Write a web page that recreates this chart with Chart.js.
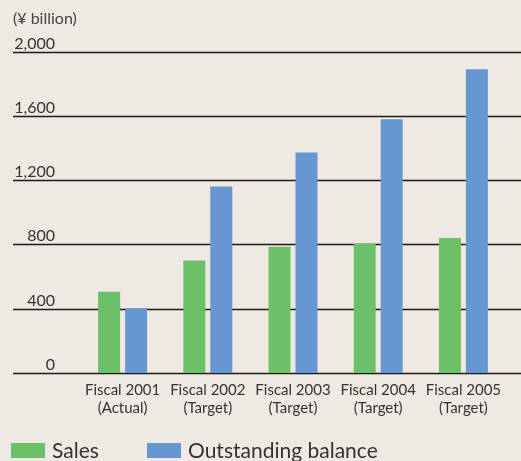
<!DOCTYPE html>
<html>
<head>
<meta charset="utf-8">
<script src="https://cdn.jsdelivr.net/npm/chart.js@4.4.0/dist/chart.umd.min.js"></script>
<style>
    html, body { margin: 0; padding: 0; background: #eeeae3; }
    #wrap { position: relative; width: 521px; height: 461px; overflow: hidden; }
    #unit { position: absolute; left: 13px; top: 8px; font: 16px Lato, sans-serif; color: #444; }
</style>
</head>
<body>
<div id="wrap">
    <canvas id="chart" width="521" height="461"></canvas>
    <div id="unit">(¥ billion)</div>
</div>
<script>
// Data
const categories = [
    ['Fiscal 2001', '(Actual)'],
    ['Fiscal 2002', '(Target)'],
    ['Fiscal 2003', '(Target)'],
    ['Fiscal 2004', '(Target)'],
    ['Fiscal 2005', '(Target)']
];
const salesValues = [505, 700, 785, 805, 840];
const balanceValues = [403, 1160, 1372, 1578, 1890];
const yTickValues = [0, 400, 800, 1200, 1600, 2000];
const seriesNames = ['Sales', 'Outstanding balance'];

const textColor = '#333';
const fontFamily = 'Lato, sans-serif';

// Horizontal rules + y labels sit above each line, across the full width
const gridPlugin = {
    id: 'gridPlugin',
    beforeDatasetsDraw(chart) {
        const ctx = chart.ctx;
        const y = chart.scales.y;
        ctx.save();
        ctx.strokeStyle = '#1a1a1a';
        ctx.lineWidth = 1.5;
        ctx.fillStyle = textColor;
        ctx.font = '16px ' + fontFamily;
        ctx.textAlign = 'right';
        ctx.textBaseline = 'alphabetic';
        yTickValues.forEach(function(v) {
            const py = Math.round(y.getPixelForValue(v)) + 0.5;
            ctx.beginPath();
            ctx.moveTo(13, py);
            ctx.lineTo(chart.width, py);
            ctx.stroke();
            ctx.fillText(v.toLocaleString('en-US'), 55, py - 4);
        });
        ctx.restore();
    },
    afterDraw(chart) {
        // legend along the bottom edge
        const ctx = chart.ctx;
        const items = [{ x: 11 }, { x: 147 }];
        ctx.save();
        ctx.font = '21px ' + fontFamily;
        ctx.textAlign = 'left';
        ctx.textBaseline = 'alphabetic';
        chart.data.datasets.forEach(function(ds, i) {
            ctx.fillStyle = ds.backgroundColor;
            ctx.fillRect(items[i].x, 443, 34, 15);
            ctx.fillStyle = textColor;
            ctx.fillText(ds.label, items[i].x + 41, 457.5);
        });
        ctx.restore();
    }
};

const ctx = document.getElementById('chart').getContext('2d');
new Chart(ctx, {
    type: 'bar',
    data: {
        labels: categories,
        datasets: [
            { label: seriesNames[0], data: salesValues, backgroundColor: '#6cc068' },
            { label: seriesNames[1], data: balanceValues, backgroundColor: '#6797d0' }
        ]
    },
    options: {
        responsive: false,
        animation: false,
        categoryPercentage: 0.633,
        barPercentage: 0.815,
        layout: {
            padding: { left: 80, right: 15, top: 51.5, bottom: 44 }
        },
        plugins: {
            legend: { display: false },
            tooltip: { enabled: false }
        },
        scales: {
            x: {
                grid: { display: false },
                border: { display: false },
                ticks: {
                    color: textColor,
                    font: { family: fontFamily, size: 15 },
                    padding: 0,
                    maxRotation: 0
                }
            },
            y: {
                display: false,
                min: 0,
                max: 2000
            }
        }
    },
    plugins: [gridPlugin]
});
</script>
</body>
</html>
